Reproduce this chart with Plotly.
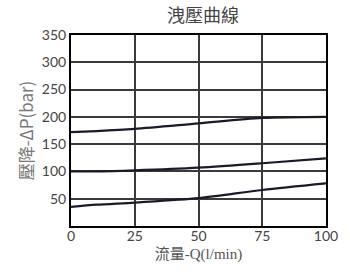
import plotly.graph_objects as go

flow = [0, 10, 25, 50, 75, 100]
curve_high = [172, 174, 178, 188, 198, 200]
curve_mid = [100, 100, 102, 107, 115, 124]
curve_low = [35, 39, 43, 51, 66, 78]

x_ticks = [0, 25, 50, 75, 100]
y_ticks = [50, 100, 150, 200, 250, 300, 350]

title_text = "洩壓曲線"
x_title = "流量-Q(l/min)"
y_title = "壓降-ΔP(bar)"

fig = go.Figure()
for ys in (curve_high, curve_mid, curve_low):
    fig.add_trace(go.Scatter(x=flow, y=ys, mode="lines",
                             line=dict(color="#1a1a2a", width=2.2, shape="spline", smoothing=0.8),
                             showlegend=False, hoverinfo="skip"))

fig.update_layout(
    width=350, height=277,
    margin=dict(l=71, r=16, t=35, b=51),
    paper_bgcolor="white", plot_bgcolor="white",
    title=dict(text=title_text, x=0.58, xanchor="center", xref="container",
               y=0.945, yanchor="middle", yref="container",
               font=dict(family="Noto Sans CJK TC", size=18, color="#444", weight="normal")),
    xaxis=dict(range=[0, 100], tickvals=x_ticks, showgrid=True, gridcolor="#3a3a3a", gridwidth=1.5,
               showline=True, linecolor="black", linewidth=2, mirror=True, zeroline=False,
               ticks="", ticklabelstandoff=-4,
               tickfont=dict(family="Lato, DejaVu Sans", size=14, color="#444"),
               title=dict(text=x_title, standoff=6,
                          font=dict(family="Liberation Serif, Noto Sans CJK TC", size=15, color="#555"))),
    yaxis=dict(range=[0, 350], tickvals=y_ticks, showgrid=True, gridcolor="#3a3a3a", gridwidth=1.5,
               showline=True, linecolor="black", linewidth=2, mirror=True, zeroline=False,
               ticks="", tickfont=dict(family="Lato, DejaVu Sans", size=14, color="#444"),
               title=dict(text=y_title, standoff=4,
                          font=dict(family="Noto Sans CJK TC", size=17, color="#777"))),
)

fig.write_html("out.html")
